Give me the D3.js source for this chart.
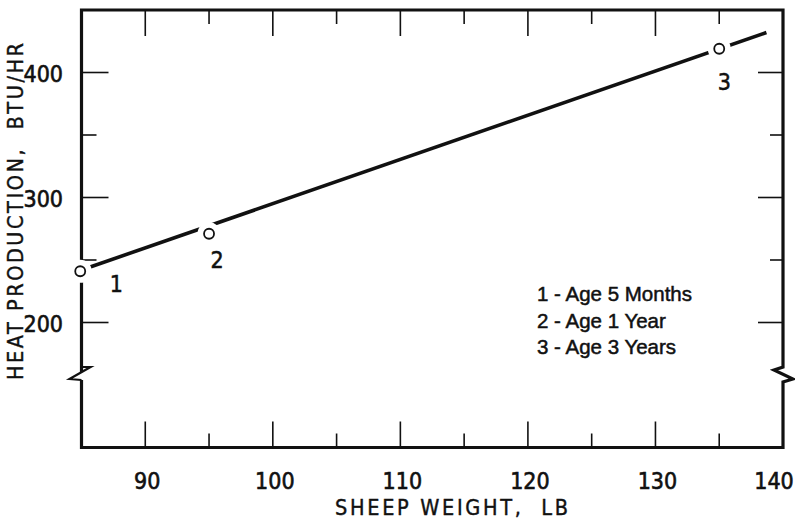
<!DOCTYPE html>
<html>
<head>
<meta charset="utf-8">
<script src="https://cdn.jsdelivr.net/npm/d3@7"></script>
<style>
  html, body { margin: 0; padding: 0; background: #fff; }
  svg text { white-space: pre; }
</style>
</head>
<body>
<svg id="chart" width="795" height="525"></svg>
<script>
// ---- data ----
const pointWeights = [84.9, 95, 135];
const pointHeat = [241, 271, 419];
const pointLabels = ["1", "2", "3"];
const fitWeights = [85, 138.7];
const fitHeat = [242, 432];
const legendLines = ["1 - Age 5 Months", "2 - Age 1 Year", "3 - Age 3 Years"];
const xMajorTicks = [90, 100, 110, 120, 130, 140];
const xMinorTicks = [95, 105, 115, 125, 135];
const yMajorTicks = [200, 300, 400];
const yMinorTicks = [250, 350];
const xTitle = "SHEEP WEIGHT,  LB";
const yTitle = "HEAT PRODUCTION,  BTU/HR";

// ---- layout ----
const L = 81.5, R = 783, T = 10, B = 447.5;
const x = d3.scaleLinear().domain([85, 140]).range([L, R]);
const y = d3.scaleLinear().domain([100, 450]).range([B, T]);
const breakY = 372;
const tickFont = "'Liberation Sans Narrow', 'DejaVu Sans Condensed', sans-serif";
const labelOffsets = [[36, 12], [8, 26], [5, 33]];

const svg = d3.select("#chart");
const ink = "#111";

// frame with axis breaks
const frame = d3.path();
frame.moveTo(L, breakY);
frame.lineTo(L, T);
frame.lineTo(R, T);
frame.lineTo(R, breakY - 5);
frame.lineTo(R - 9, breakY - 2);
frame.lineTo(R + 10, breakY + 7);
frame.lineTo(R, breakY + 10);
frame.lineTo(R, B);
frame.lineTo(L, B);
frame.lineTo(L, breakY + 8);
svg.append("path").attr("d", frame.toString())
  .attr("fill", "none").attr("stroke", ink).attr("stroke-width", 3.2)
  .attr("stroke-linejoin", "miter");
const lb = d3.path();
lb.moveTo(L, breakY + 8);
lb.lineTo(L - 12, breakY + 7);
lb.lineTo(L + 9, breakY - 5);
lb.lineTo(L, breakY - 5);
lb.lineTo(L, breakY + 1);
svg.append("path").attr("d", lb.toString())
  .attr("fill", "none").attr("stroke", ink).attr("stroke-width", 2.2);

// ticks
const tk = svg.append("g").attr("stroke", ink).attr("stroke-width", 1.6);
const xMajInner = xMajorTicks.filter(d => d < 140);
tk.selectAll(".xb").data(xMajInner).join("line")
  .attr("x1", d => x(d)).attr("x2", d => x(d)).attr("y1", B).attr("y2", B - 26);
tk.selectAll(".xbm").data(xMinorTicks).join("line")
  .attr("x1", d => x(d)).attr("x2", d => x(d)).attr("y1", B).attr("y2", B - 14);
tk.selectAll(".xt").data(xMajInner).join("line")
  .attr("x1", d => x(d)).attr("x2", d => x(d)).attr("y1", T).attr("y2", T + 26);
tk.selectAll(".xtm").data(xMinorTicks).join("line")
  .attr("x1", d => x(d)).attr("x2", d => x(d)).attr("y1", T).attr("y2", T + 14);
tk.selectAll(".yl").data(yMajorTicks).join("line")
  .attr("x1", L).attr("x2", L + 27).attr("y1", d => y(d)).attr("y2", d => y(d));
tk.selectAll(".ylm").data(yMinorTicks).join("line")
  .attr("x1", L).attr("x2", L + 15).attr("y1", d => y(d)).attr("y2", d => y(d));
tk.selectAll(".yr").data(yMajorTicks).join("line")
  .attr("x1", R).attr("x2", R - 25).attr("y1", d => y(d)).attr("y2", d => y(d));
tk.selectAll(".yrm").data(yMinorTicks).join("line")
  .attr("x1", R).attr("x2", R - 13).attr("y1", d => y(d)).attr("y2", d => y(d));

// tick labels
svg.append("g").selectAll("text").data(xMajorTicks).join("text")
  .attr("x", d => Math.min(x(d) + 2, 774)).attr("y", 488.5)
  .attr("text-anchor", "middle")
  .attr("font-family", tickFont).attr("font-size", 23).attr("fill", ink)
  .attr("stroke", ink).attr("stroke-width", 0.6)
  .text(d => d);
svg.append("g").selectAll("text").data(yMajorTicks).join("text")
  .attr("x", 63).attr("y", d => y(d) + 9.5)
  .attr("text-anchor", "end")
  .attr("font-family", tickFont).attr("font-size", 23).attr("fill", ink)
  .attr("stroke", ink).attr("stroke-width", 0.6)
  .text(d => d);

// fit line
const fit = fitWeights.map((w, i) => [w, fitHeat[i]]);
svg.append("path")
  .attr("d", d3.line().x(d => x(d[0])).y(d => y(d[1]))(fit))
  .attr("fill", "none").attr("stroke", ink).attr("stroke-width", 3.6);

// data points with white halos
const pts = pointWeights.map((w, i) => ({ w, h: pointHeat[i], label: pointLabels[i], i }));
svg.append("g").selectAll("circle").data(pts).join("circle")
  .attr("cx", d => x(d.w)).attr("cy", d => y(d.h)).attr("r", 11.5)
  .attr("fill", "#fff");
svg.append("g").selectAll("circle").data(pts).join("circle")
  .attr("cx", d => x(d.w)).attr("cy", d => y(d.h)).attr("r", 5)
  .attr("fill", "#fff").attr("stroke", ink).attr("stroke-width", 1.8);
svg.append("g").selectAll("text").data(pts).join("text")
  .attr("x", d => x(d.w) + labelOffsets[d.i][0])
  .attr("y", d => y(d.h) + labelOffsets[d.i][1] + 8.5)
  .attr("text-anchor", "middle")
  .attr("font-family", tickFont).attr("font-size", 23).attr("fill", ink)
  .attr("stroke", ink).attr("stroke-width", 0.5)
  .text(d => d.label);

// legend
svg.append("g").selectAll("text").data(legendLines).join("text")
  .attr("x", 537).attr("y", (d, i) => 301 + i * 26.5)
  .attr("font-family", "'Liberation Sans', Arial, sans-serif")
  .attr("font-size", 20.5).attr("fill", ink)
  .attr("stroke", ink).attr("stroke-width", 0.5)
  .text(d => d);

// axis titles
svg.append("text")
  .attr("x", 451.5).attr("y", 515)
  .attr("text-anchor", "middle")
  .attr("font-family", "'DejaVu Sans Condensed', 'DejaVu Sans', sans-serif")
  .attr("font-size", 21.5).attr("fill", ink)
  .attr("stroke", ink).attr("stroke-width", 0.4)
  .attr("textLength", 233).attr("lengthAdjust", "spacing")
  .text(xTitle);
svg.append("text")
  .attr("transform", "translate(23,211.5) rotate(-90)")
  .attr("text-anchor", "middle")
  .attr("font-family", "'DejaVu Sans Condensed', 'DejaVu Sans', sans-serif")
  .attr("font-size", 21.5).attr("fill", ink)
  .attr("stroke", ink).attr("stroke-width", 0.4)
  .attr("textLength", 337).attr("lengthAdjust", "spacing")
  .text(yTitle);
</script>
</body>
</html>
